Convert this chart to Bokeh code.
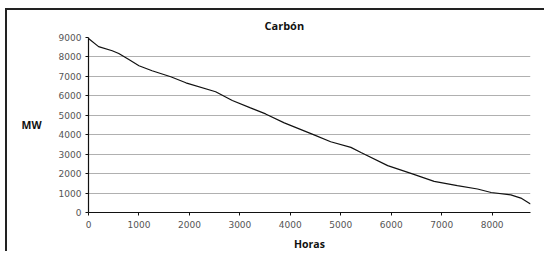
from bokeh.plotting import figure
from bokeh.models import Range1d, FixedTicker, Title
from bokeh.embed import file_html
from bokeh.resources import INLINE

hours = [0, 200, 470, 600, 800, 1000, 1260, 1630, 1930, 2520, 2850, 3210, 3510, 3880,
         4470, 4800, 5200, 5400, 5930, 6390, 6850, 7310, 7710, 7980, 8370, 8570, 8760]
mw = [8950, 8530, 8320, 8180, 7870, 7550, 7290, 6980, 6670, 6210, 5760, 5380, 5070, 4610,
      3990, 3640, 3350, 3090, 2410, 2010, 1600, 1380, 1210, 1030, 910, 740, 440]
x_ticks = [0, 1000, 2000, 3000, 4000, 5000, 6000, 7000, 8000]
y_ticks = [0, 1000, 2000, 3000, 4000, 5000, 6000, 7000, 8000, 9000]

FONT = "Open Sans"
TICK_FONT = "DejaVu Sans"

p = figure(width=539, height=243, output_backend="svg", toolbar_location=None,
           x_range=Range1d(0, 8760), y_range=Range1d(0, 9000),
           min_border_left=81, min_border_right=16, min_border_top=27, min_border_bottom=41)
p.title = None
p.styles = {"margin-left": "5px", "margin-top": "8px",
            "border-left": "2px solid #222", "border-top": "2px solid #222"}

t = Title(text="Carbón", align="left", offset=176, text_font=FONT,
          text_font_size="11px", text_font_style="bold", text_color="#111")
p.add_layout(t, "above")

p.line(hours, mw, line_color="#111", line_width=1.2)

p.outline_line_color = None
p.background_fill_color = "white"
p.border_fill_color = "white"

p.xgrid.grid_line_color = None
p.ygrid.grid_line_color = "#b0b0b0"
p.ygrid.grid_line_width = 1

p.xaxis.ticker = FixedTicker(ticks=x_ticks)
p.yaxis.ticker = FixedTicker(ticks=y_ticks)
for ax in (p.xaxis[0], p.yaxis[0]):
    ax.axis_line_color = "#111"
    ax.axis_line_width = 1.2
    ax.major_tick_line_color = "#111"
    ax.major_tick_in = 0
    ax.major_tick_out = 3
    ax.minor_tick_line_color = None
    ax.major_label_text_font = TICK_FONT
    ax.major_label_text_font_size = "9px"
    ax.major_label_text_color = "#555"
    ax.axis_label_text_font = FONT
    ax.axis_label_text_font_size = "10.5px"
    ax.axis_label_text_font_style = "bold"
    ax.axis_label_text_color = "#111"

p.xaxis.axis_label = "Horas"
p.xaxis.major_label_standoff = 5
p.xaxis.axis_label_standoff = 6
p.yaxis.axis_label = "MW"
p.yaxis.axis_label_orientation = "horizontal"
p.yaxis.major_label_standoff = 4
p.yaxis.axis_label_standoff = 14

open("out.html", "w").write(file_html(p, INLINE))
